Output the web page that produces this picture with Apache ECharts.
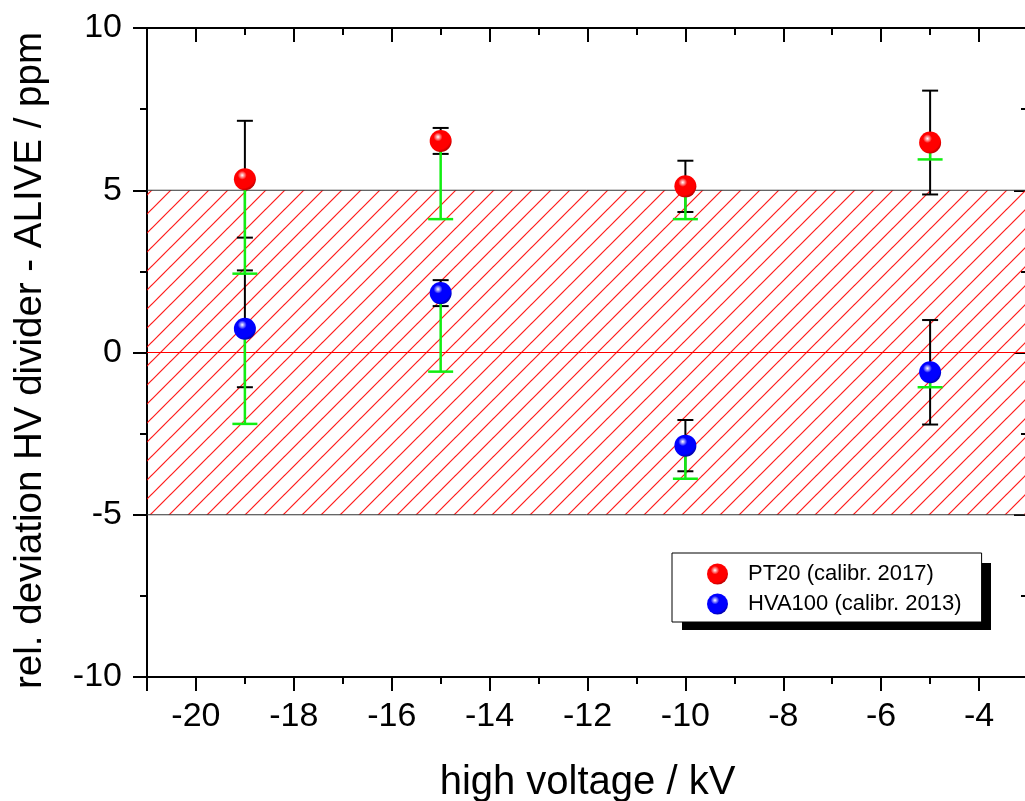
<!DOCTYPE html>
<html><head><meta charset="utf-8">
<script src="https://cdn.jsdelivr.net/npm/echarts@6/dist/echarts.min.js"></script>
<style>html,body{margin:0;padding:0;background:#fff}#c{width:1025px;height:801px}</style>
</head><body><div id="c"></div>
<script>
// ---- data ----
const voltages = [-19, -15, -10, -5];
const pt20Values = [5.34, 6.52, 5.12, 6.47];
const pt20StatErr = [1.8, 0.4, 0.79, 1.6];
const pt20SysErrLow = [2.91, 2.41, 1.01, 0.52];
const hva100Values = [0.73, 1.83, -2.87, -0.61];
const hva100StatErr = [1.8, 0.4, 0.79, 1.61];
const hva100SysErrLow = [2.93, 2.42, 1.02, 0.46];
const seriesNames = ['PT20 (calibr. 2017)', 'HVA100 (calibr. 2013)'];
const toleranceBand = [-5, 5];
const xRange = [-21, -3];
const yRange = [-10, 10];
const yInterval = 5;

const FONT = 'Liberation Sans, Arial, sans-serif';

function hatchCanvas() {
  const s = 19;
  const c = document.createElement('canvas');
  c.width = s; c.height = s;
  const g = c.getContext('2d');
  g.strokeStyle = 'rgba(255,0,0,0.9)';
  g.lineWidth = 1.2;
  g.beginPath(); g.moveTo(-3, s + 3); g.lineTo(s + 3, -3); g.stroke();
  g.beginPath(); g.moveTo(-3, 3); g.lineTo(3, -3); g.stroke();
  g.beginPath(); g.moveTo(s - 3, s + 3); g.lineTo(s + 3, s - 3); g.stroke();
  return c;
}

function sphere(base, dark) {
  return {
    type: 'radial', x: 0.38, y: 0.32, r: 0.72,
    colorStops: [
      { offset: 0, color: '#ffffff' },
      { offset: 0.28, color: base },
      { offset: 0.8, color: base },
      { offset: 1, color: dark }
    ]
  };
}

function barRenderer(color, capHalf, lineW, capBothEnds) {
  return function (params, api) {
    const x = api.value(0), lo = api.value(1), hi = api.value(2);
    const pLo = api.coord([x, lo]);
    const pHi = api.coord([x, hi]);
    const st = { stroke: color, lineWidth: lineW };
    const children = [
      { type: 'line', shape: { x1: pLo[0], y1: pLo[1], x2: pHi[0], y2: pHi[1] }, style: st },
      { type: 'line', shape: { x1: pLo[0] - capHalf, y1: pLo[1], x2: pLo[0] + capHalf, y2: pLo[1] }, style: st }
    ];
    if (capBothEnds) {
      children.push({ type: 'line', shape: { x1: pHi[0] - capHalf, y1: pHi[1], x2: pHi[0] + capHalf, y2: pHi[1] }, style: st });
    }
    return { type: 'group', children: children };
  };
}

function bandRenderer(params, api) {
  const lo = api.value(0), hi = api.value(1);
  const cs = params.coordSys;
  const pHi = api.coord([xRange[0], hi]);
  const pLo = api.coord([xRange[0], lo]);
  const x0 = cs.x, x1 = cs.x + cs.width;
  return {
    type: 'group', children: [
      { type: 'rect', shape: { x: x0, y: pHi[1], width: cs.width, height: pLo[1] - pHi[1] },
        style: { fill: { image: hatchCanvas(), repeat: 'repeat' }, stroke: null } },
      { type: 'line', shape: { x1: x0, y1: pHi[1], x2: x1, y2: pHi[1] }, style: { stroke: '#333', lineWidth: 1 } },
      { type: 'line', shape: { x1: x0, y1: pLo[1], x2: x1, y2: pLo[1] }, style: { stroke: '#333', lineWidth: 1 } }
    ]
  };
}

function zeroLineRenderer(params, api) {
  const cs = params.coordSys;
  const p = api.coord([xRange[0], api.value(0)]);
  return { type: 'line', shape: { x1: cs.x, y1: p[1], x2: cs.x + cs.width, y2: p[1] }, style: { stroke: '#ff0000', lineWidth: 1 } };
}

const statData = (vals, errs) => voltages.map((x, i) => [x, vals[i] - errs[i], vals[i] + errs[i]]);
const sysData = (vals, errs) => voltages.map((x, i) => [x, vals[i] - errs[i], vals[i]]);
const pointData = (vals) => voltages.map((x, i) => [x, vals[i]]);

const chart = echarts.init(document.getElementById('c'), null, { renderer: 'canvas' });

const axisLineStyle = { color: '#000', width: 2 };
const tickStyle = { color: '#000', width: 2 };

const legendBox = { left: 672, top: 553, width: 309, height: 67, shadow: 10 };

const option = {
  animation: false,
  backgroundColor: '#fff',
  grid: { left: 147, top: 28, right: -3, bottom: 124, containLabel: false, outerBoundsMode: 'none' },
  graphic: [{
    type: 'rect', z: 3, silent: true,
    left: legendBox.left + legendBox.shadow, top: legendBox.top + legendBox.shadow,
    shape: { width: legendBox.width, height: legendBox.height },
    style: { fill: '#000' }
  }],
  xAxis: [{
    type: 'value', min: xRange[0], max: xRange[1], splitNumber: 9, position: 'bottom',
    name: 'high voltage / kV', nameLocation: 'middle', nameGap: 86,
    nameTextStyle: { fontFamily: FONT, fontSize: 40, color: '#000' },
    axisLine: { show: true, onZero: false, lineStyle: axisLineStyle },
    axisTick: { show: true, inside: false, length: 14, lineStyle: tickStyle },
    minorTick: { show: true, splitNumber: 2, length: 7, lineStyle: tickStyle },
    splitLine: { show: false },
    axisLabel: {
      fontFamily: FONT, fontSize: 34, color: '#000', margin: 23,
      formatter: v => (Math.abs(v % 2) < 1e-9 ? String(v) : '')
    }
  }, {
    type: 'value', min: xRange[0], max: xRange[1], splitNumber: 9, position: 'top',
    axisLine: { show: true, onZero: false, lineStyle: axisLineStyle },
    axisTick: { show: true, inside: true, length: 14, lineStyle: tickStyle },
    minorTick: { show: true, splitNumber: 2, length: 7, lineStyle: tickStyle },
    splitLine: { show: false },
    axisLabel: { show: false }
  }],
  yAxis: [{
    type: 'value', min: yRange[0], max: yRange[1], interval: yInterval, position: 'left',
    name: 'rel. deviation HV divider - ALIVE / ppm', nameLocation: 'middle', nameGap: 97,
    nameTextStyle: { fontFamily: FONT, fontSize: 38.5, color: '#000', padding: [0, 16, 0, 0] },
    axisLine: { show: true, onZero: false, lineStyle: axisLineStyle },
    axisTick: { show: true, inside: false, length: 14, lineStyle: tickStyle },
    minorTick: { show: true, splitNumber: 2, length: 7, lineStyle: tickStyle },
    splitLine: { show: false },
    axisLabel: { fontFamily: FONT, fontSize: 34, color: '#000', margin: 25 }
  }, {
    type: 'value', min: yRange[0], max: yRange[1], interval: yInterval, position: 'right',
    axisLine: { show: true, onZero: false, lineStyle: axisLineStyle },
    axisTick: { show: true, inside: true, length: 14, lineStyle: tickStyle },
    minorTick: { show: true, splitNumber: 2, length: 7, lineStyle: tickStyle },
    splitLine: { show: false },
    axisLabel: { show: false }
  }],
  legend: {
    data: seriesNames, z: 10,
    left: legendBox.left, top: legendBox.top, orient: 'vertical',
    icon: 'circle', itemWidth: 21, itemHeight: 21, itemGap: 8,
    padding: [10, 20, 7, 35],
    backgroundColor: '#fff', borderColor: '#000', borderWidth: 1,
    selectedMode: false,
    textStyle: { fontFamily: FONT, fontSize: 22, color: '#000', padding: [0, 0, 0, 15] }
  },
  series: [
    { name: 'band', type: 'custom', renderItem: bandRenderer, data: [toleranceBand], encode: { y: [0, 1] }, z: 1, silent: true, clip: true },
    { name: 'zero', type: 'custom', renderItem: zeroLineRenderer, data: [[0]], encode: { y: 0 }, z: 1.5, silent: true },
    { name: 'pt20 stat', type: 'custom', renderItem: barRenderer('#000', 8, 2, true), data: statData(pt20Values, pt20StatErr), encode: { x: 0, y: [1, 2] }, z: 2, silent: true },
    { name: 'hva stat', type: 'custom', renderItem: barRenderer('#000', 8, 2, true), data: statData(hva100Values, hva100StatErr), encode: { x: 0, y: [1, 2] }, z: 2, silent: true },
    { name: 'pt20 sys', type: 'custom', renderItem: barRenderer('#11ee11', 12.5, 2.5, false), data: sysData(pt20Values, pt20SysErrLow), encode: { x: 0, y: [1, 2] }, z: 3, silent: true },
    { name: 'hva sys', type: 'custom', renderItem: barRenderer('#11ee11', 12.5, 2.5, false), data: sysData(hva100Values, hva100SysErrLow), encode: { x: 0, y: [1, 2] }, z: 3, silent: true },
    { name: seriesNames[0], type: 'scatter', symbol: 'circle', symbolSize: 22, z: 5, data: pointData(pt20Values), itemStyle: { color: sphere('#ff0000', '#b00000'), opacity: 1 } },
    { name: seriesNames[1], type: 'scatter', symbol: 'circle', symbolSize: 22, z: 5, data: pointData(hva100Values), itemStyle: { color: sphere('#0000ff', '#00009a'), opacity: 1 } }
  ]
};
chart.setOption(option);
</script>
</body></html>
